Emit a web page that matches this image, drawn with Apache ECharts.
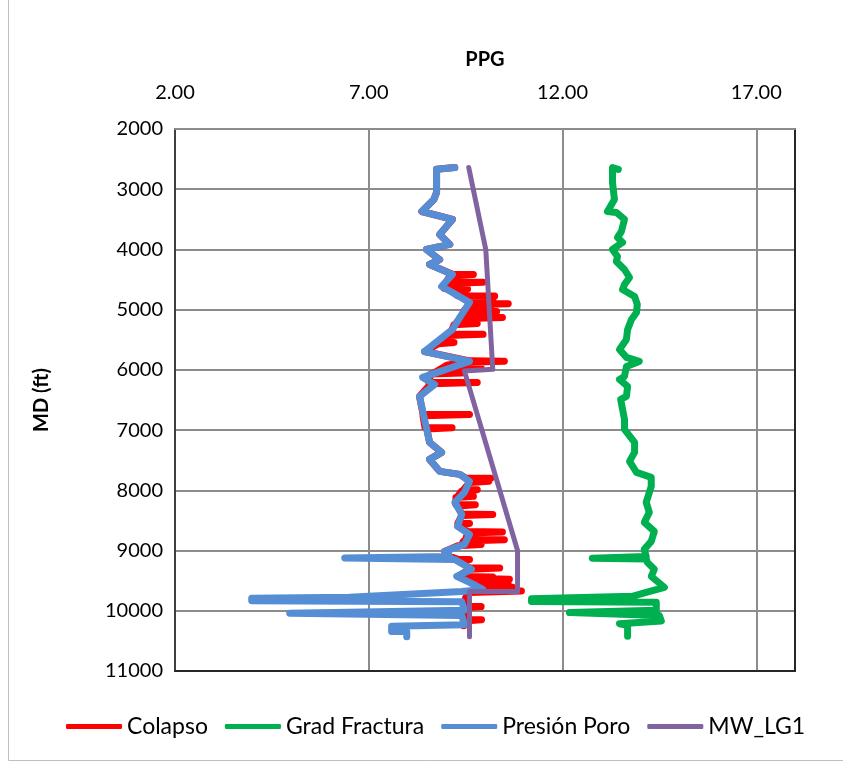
<!DOCTYPE html>
<html>
<head>
<meta charset="utf-8">
<script src="https://cdn.jsdelivr.net/npm/echarts@6/dist/echarts.min.js"></script>
<style>
html,body{margin:0;padding:0;background:#fff;}
#chart{width:843px;height:763px;}
</style>
</head>
<body>
<div id="chart"></div>
<script>
// ---- Data: [PPG, MD (ft)] ----
var seriesNames = ['Colapso', 'Grad Fractura', 'Presión Poro', 'MW_LG1'];
var xTicks = [2, 7, 12, 17];

var colapso = [
 [9.22,2640],[8.75,2670],[8.75,3054],[8.68,3170],[8.37,3370],[9.16,3502],[8.83,3751],[9.09,3917],[8.49,4000],[8.83,4170],[8.57,4250],[9.16,4410],
 [9.70,4415],[9.70,4430],[9.10,4435],
 [9.00,4540],[9.95,4545],[9.95,4560],[9.00,4565],
 [8.95,4650],[9.55,4655],[9.55,4670],[9.10,4675],
 [9.30,4770],[10.25,4775],[10.25,4790],[9.40,4795],
 [9.50,4835],[10.20,4840],[10.20,4855],[9.55,4860],
 [9.60,4895],[10.60,4900],[10.60,4915],[9.65,4920],
 [9.55,4965],[10.15,4970],[10.15,4985],[9.50,4990],
 [9.45,5025],[10.30,5030],[10.30,5045],[9.45,5050],
 [9.40,5125],[10.45,5130],[10.45,5145],[9.35,5150],
 [9.25,5225],[9.80,5230],[9.80,5245],[9.20,5250],
 [9.10,5405],[9.95,5410],[9.95,5425],[9.05,5430],
 [8.85,5540],[9.20,5545],[9.20,5560],[8.80,5565],
 [8.44,5694],[9.60,5850],[10.50,5855],[10.50,5870],[9.50,5875],
 [9.00,5925],[9.90,5930],[9.90,5945],[8.95,5950],
 [8.70,6045],[9.40,6050],[9.40,6065],[8.60,6070],
 [8.55,6205],[9.80,6210],[9.80,6225],[8.60,6230],
 [8.31,6440],[8.40,6735],[9.60,6740],[9.60,6755],[8.40,6760],
 [8.45,6955],[9.15,6960],[9.15,6975],[8.50,6980],
 [8.57,7204],[8.88,7370],[8.57,7486],[8.83,7685],[9.35,7735],
 [9.50,7795],[10.15,7800],[10.15,7815],[9.55,7820],
 [9.60,7845],[10.10,7850],[10.10,7865],[9.60,7870],
 [9.45,7985],[9.80,7990],[9.80,8005],[9.40,8010],
 [9.30,8095],[9.70,8100],[9.70,8115],[9.25,8120],
 [9.25,8235],[9.75,8240],[9.75,8255],[9.30,8260],
 [9.40,8395],[10.20,8400],[10.20,8415],[9.40,8420],
 [9.30,8545],[9.60,8550],[9.60,8565],[9.30,8570],
 [9.55,8685],[10.45,8690],[10.45,8705],[9.55,8710],
 [9.50,8815],[10.50,8820],[10.50,8835],[9.45,8840],
 [9.40,8895],[9.90,8900],[9.90,8915],[9.30,8920],
 [8.96,9014],[9.10,9100],[9.30,9145],[9.60,9150],[9.60,9165],[9.30,9170],
 [9.60,9285],[10.38,9290],[10.38,9305],[9.60,9310],
 [9.30,9430],[10.20,9440],[10.20,9455],[9.60,9460],[10.63,9475],[10.63,9490],[9.80,9495],
 [9.90,9555],[10.60,9560],[10.60,9575],[9.90,9580],
 [10.00,9605],[10.71,9610],[10.71,9625],[10.00,9630],
 [10.10,9660],[10.94,9670],[10.94,9690],[9.60,9695],
 [9.50,9780],[9.50,9925],[9.90,9930],[9.90,9945],[9.45,9950],
 [9.45,10145],[9.91,10150],[9.91,10165],[9.45,10170],[9.45,10250]
];

var gradFractura = [
 [13.44,2670],[13.29,2640],[13.29,2888],[13.34,3170],[13.16,3370],[13.39,3386],[13.60,3502],[13.52,3702],[13.42,3801],[13.55,3884],[13.29,4000],[13.42,4117],[13.39,4200],[13.60,4333],[13.73,4466],[13.60,4581],[13.55,4664],[13.86,4781],[13.93,4913],[13.91,5046],[13.78,5162],[13.68,5328],[13.65,5494],[13.47,5660],[13.65,5793],[13.98,5860],[13.65,5942],[13.60,6108],[13.47,6158],[13.68,6274],[13.65,6440],[13.50,6490],[13.60,6822],[13.60,6988],[13.86,7204],[13.86,7370],[13.73,7519],[13.91,7702],[14.29,7785],[14.29,7935],[14.16,8200],[14.24,8366],[14.11,8532],[14.37,8682],[14.29,8848],[14.11,8981],[14.16,9097],
 [14.16,9122],[12.77,9127],[12.77,9135],[14.16,9140],
 [14.19,9196],[14.37,9312],[14.29,9428],[14.63,9611],[14.16,9694],[13.80,9760],
 [11.20,9800],[11.20,9845],[14.42,9860],[14.42,9990],
 [12.18,10030],[12.18,10060],[14.50,10080],[14.55,10170],[13.47,10215],[13.68,10240],[13.68,10424]
];

var presionPoro = [
 [9.22,2640],[8.75,2670],[8.75,3054],[8.68,3170],[8.37,3370],[9.16,3502],[8.83,3751],[9.09,3917],[8.49,4000],[8.83,4170],[8.57,4250],[9.16,4415],[8.88,4615],[9.16,4714],[9.60,4880],[9.35,5129],[9.16,5329],[8.83,5495],[8.44,5694],[9.60,5860],[8.39,6125],[8.70,6241],[8.31,6440],[8.44,6822],[8.57,7204],[8.88,7370],[8.57,7486],[8.83,7685],[9.35,7735],[9.60,7851],[9.47,8034],[9.22,8200],[9.40,8399],[9.29,8598],[9.60,8731],[9.47,8897],[8.96,9014],[9.09,9097],
 [6.38,9122],[6.38,9138],[9.22,9150],
 [9.65,9312],[9.27,9428],[9.60,9528],[9.94,9645],[9.40,9680],[6.50,9775],
 [3.98,9790],[3.98,9835],[9.40,9850],[9.47,9990],
 [4.96,10040],[4.96,10065],[9.40,10080],[9.47,10230],
 [7.59,10255],[7.59,10345],[7.98,10345],[7.98,10430]
];

var mwLG1 = [
 [9.58,2640],[10.02,4000],[10.20,5990],[9.47,6020],[10.84,9000],[10.84,9680],[9.60,9680],[9.60,10430]
];

var colors = ['#FF0000', '#00B050', '#558ED5', '#8064A2'];
var widths = [7, 7, 7, 5];
var datasets = [colapso, gradFractura, presionPoro, mwLG1];

var chart = echarts.init(document.getElementById('chart'), null, {renderer: 'canvas'});
var FONT = 'Lato';

var series = seriesNames.map(function (n, i) {
  return {
    name: n,
    type: 'line',
    data: datasets[i],
    showSymbol: false,
    symbol: 'none',
    z: 2 + i,
    lineStyle: {color: colors[i], width: widths[i], cap: 'round', join: 'round'},
    itemStyle: {color: colors[i]},
    animation: false
  };
});

chart.setOption({
  animation: false,
  backgroundColor: '#fff',
  textStyle: {fontFamily: FONT},
  grid: {left: 175, right: 48, top: 129, bottom: 92, show: true, borderColor: '#8c8c8c', borderWidth: 2},
  legend: {
    data: seriesNames,
    left: 61, top: 710,
    icon: 'roundRect',
    itemWidth: 56, itemHeight: 5,
    itemGap: 17,
    textStyle: {fontFamily: FONT, fontSize: 23, color: '#000'}
  },
  xAxis: [{
    type: 'value', position: 'top',
    min: 2, max: 18, interval: 5,
    name: 'PPG', nameLocation: 'middle', nameGap: 59,
    nameTextStyle: {fontFamily: FONT, fontSize: 20, fontWeight: 'bold', color: '#000'},
    axisLine: {show: true, lineStyle: {color: '#8c8c8c', width: 2}},
    axisTick: {show: false},
    axisLabel: {show: true, fontFamily: FONT, fontSize: 20, color: '#000', margin: 26, showMaxLabel: false,
      formatter: function (v) { return xTicks.indexOf(v) >= 0 ? v.toFixed(2) : ''; }},
    splitLine: {show: true, lineStyle: {color: '#8c8c8c', width: 2}}
  }, {
    type: 'value', position: 'bottom', min: 2, max: 18,
    axisLine: {show: true, onZero: false, lineStyle: {color: '#262626', width: 2}},
    axisTick: {show: false}, axisLabel: {show: false}, splitLine: {show: false}
  }],
  yAxis: [{
    type: 'value', inverse: true,
    min: 2000, max: 11000, interval: 1000,
    name: 'MD (ft)', nameLocation: 'middle', nameGap: 123, nameRotate: 90,
    nameTextStyle: {fontFamily: FONT, fontSize: 20, fontWeight: 'bold', color: '#000'},
    axisLine: {show: true, lineStyle: {color: '#404040', width: 2}},
    axisTick: {show: false},
    axisLabel: {fontFamily: FONT, fontSize: 20, color: '#000', margin: 12,
      formatter: function (v) { return String(v); }},
    splitLine: {show: true, lineStyle: {color: '#8c8c8c', width: 2}}
  }, {
    type: 'value', inverse: true, position: 'right', min: 2000, max: 11000,
    axisLine: {show: true, onZero: false, lineStyle: {color: '#262626', width: 2}},
    axisTick: {show: false}, axisLabel: {show: false}, splitLine: {show: false}
  }],
  graphic: [{
    type: 'rect', silent: true, z: -1,
    shape: {x: 8.5, y: -10, width: 900, height: 770.5},
    style: {fill: null, stroke: '#bfbfbf', lineWidth: 1}
  }],
  series: series
});
</script>
</body>
</html>
